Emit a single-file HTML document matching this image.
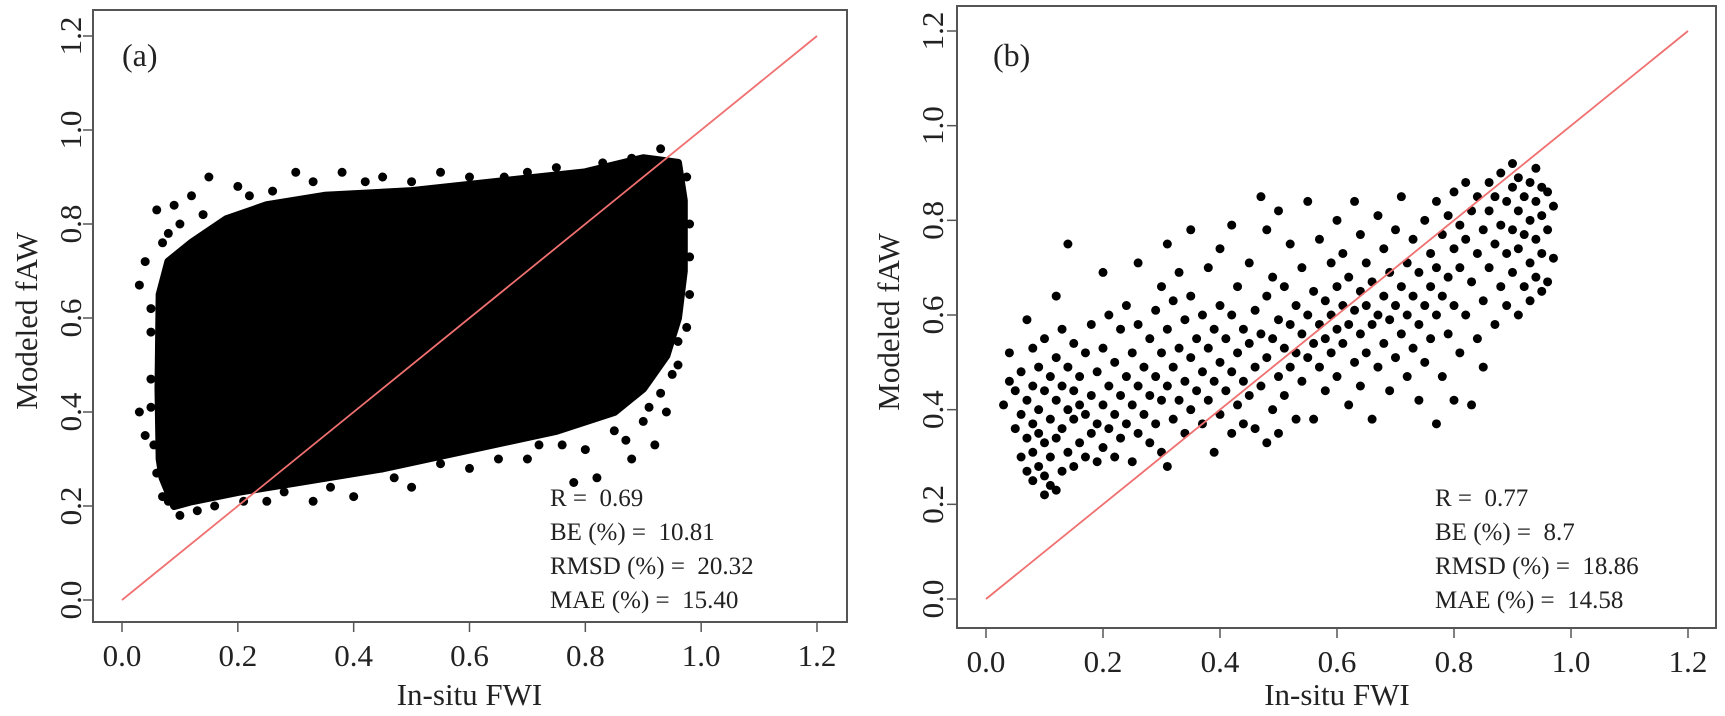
<!DOCTYPE html>
<html><head><meta charset="utf-8"><style>
body{margin:0;background:#fff}
svg{display:block;font-family:"Liberation Serif",serif}
text{white-space:pre}
</style></head><body>
<svg id="c" width="1725" height="716" viewBox="0 0 1725 716"></svg>
<script>
const ticks=[0,0.2,0.4,0.6,0.8,1.0,1.2];
const tickLabels=["0.0","0.2","0.4","0.6","0.8","1.0","1.2"];
const statsA=["R =  0.69","BE (%) =  10.81","RMSD (%) =  20.32","MAE (%) =  15.40"];
const statsB=["R =  0.77","BE (%) =  8.7","RMSD (%) =  18.86","MAE (%) =  14.58"];
const hullA=[[0.065,0.30],[0.063,0.45],[0.065,0.65],[0.08,0.72],[0.12,0.76],[0.18,0.81],[0.25,0.84],[0.35,0.86],[0.5,0.87],[0.65,0.89],[0.8,0.91],[0.9,0.94],[0.96,0.93],[0.97,0.85],[0.97,0.70],[0.96,0.60],[0.94,0.52],[0.9,0.45],[0.85,0.40],[0.75,0.36],[0.6,0.32],[0.45,0.28],[0.3,0.25],[0.2,0.23],[0.12,0.21],[0.09,0.20],[0.07,0.26]];
const ptsA=[[0.04,0.72],[0.03,0.67],[0.03,0.40],[0.04,0.35],[0.05,0.57],[0.06,0.83],[0.09,0.84],[0.15,0.90],[0.2,0.88],[0.3,0.91],[0.38,0.91],[0.45,0.90],[0.55,0.91],[0.7,0.91],[0.88,0.94],[0.93,0.96],[0.98,0.80],[0.98,0.65],[0.95,0.48],[0.92,0.33],[0.88,0.30],[0.82,0.26],[0.78,0.25],[0.7,0.30],[0.6,0.28],[0.5,0.24],[0.4,0.22],[0.33,0.21],[0.25,0.21],[0.16,0.20],[0.1,0.18],[0.07,0.22],[0.76,0.33],[0.85,0.36],[0.94,0.40],[0.12,0.86],[0.08,0.78],[0.05,0.47],[0.06,0.27],
[0.05,0.62],[0.05,0.41],[0.055,0.33],[0.07,0.76],[0.1,0.80],[0.14,0.82],[0.22,0.86],[0.26,0.87],[0.33,0.89],[0.42,0.89],[0.5,0.89],[0.6,0.90],[0.66,0.90],[0.75,0.92],[0.83,0.93],[0.975,0.90],[0.98,0.73],[0.975,0.58],[0.96,0.50],[0.93,0.44],[0.9,0.38],[0.87,0.34],[0.8,0.32],[0.72,0.33],[0.65,0.30],[0.55,0.29],[0.47,0.26],[0.36,0.24],[0.28,0.23],[0.21,0.21],[0.13,0.19],[0.08,0.21],[0.86,0.43],[0.91,0.41],[0.96,0.55]];
const ptsB=[[0.03,0.41],[0.04,0.46],[0.04,0.52],[0.05,0.36],[0.05,0.44],[0.06,0.30],[0.06,0.39],[0.06,0.48],[0.07,0.27],[0.07,0.34],[0.07,0.42],[0.07,0.59],[0.08,0.25],[0.08,0.31],[0.08,0.37],[0.08,0.45],[0.08,0.53],[0.09,0.28],[0.09,0.35],[0.09,0.40],[0.09,0.49],[0.10,0.22],[0.10,0.26],[0.10,0.33],[0.10,0.44],[0.10,0.55],
[0.11,0.24],[0.11,0.30],[0.11,0.38],[0.11,0.47],[0.12,0.23],[0.12,0.34],[0.12,0.42],[0.12,0.51],[0.12,0.64],[0.13,0.27],[0.13,0.36],[0.13,0.45],[0.13,0.57],[0.14,0.31],[0.14,0.40],[0.14,0.49],[0.14,0.75],[0.15,0.28],[0.15,0.38],[0.15,0.44],[0.15,0.54],[0.16,0.33],[0.16,0.41],[0.16,0.47],[0.17,0.30],[0.17,0.39],[0.17,0.52],[0.18,0.35],[0.18,0.43],[0.18,0.58],[0.19,0.29],[0.19,0.37],[0.19,0.48],[0.20,0.32],[0.20,0.41],[0.20,0.53],[0.20,0.69],
[0.21,0.36],[0.21,0.45],[0.21,0.60],[0.22,0.30],[0.22,0.39],[0.22,0.50],[0.23,0.34],[0.23,0.43],[0.23,0.57],[0.24,0.37],[0.24,0.47],[0.24,0.62],[0.25,0.29],[0.25,0.41],[0.25,0.52],[0.26,0.35],[0.26,0.45],[0.26,0.58],[0.26,0.71],[0.27,0.39],[0.27,0.49],[0.28,0.33],[0.28,0.43],[0.28,0.55],[0.29,0.37],[0.29,0.47],[0.29,0.61],[0.30,0.31],[0.30,0.42],[0.30,0.52],[0.30,0.66],
[0.31,0.28],[0.31,0.45],[0.31,0.57],[0.31,0.75],[0.32,0.38],[0.32,0.49],[0.32,0.63],[0.33,0.42],[0.33,0.53],[0.33,0.69],[0.34,0.35],[0.34,0.46],[0.34,0.59],[0.35,0.40],[0.35,0.51],[0.35,0.64],[0.35,0.78],[0.36,0.44],[0.36,0.55],[0.37,0.37],[0.37,0.48],[0.37,0.60],[0.38,0.42],[0.38,0.53],[0.38,0.70],[0.39,0.31],[0.39,0.46],[0.39,0.57],[0.40,0.39],[0.40,0.50],[0.40,0.62],[0.40,0.74],
[0.41,0.44],[0.41,0.55],[0.42,0.35],[0.42,0.48],[0.42,0.60],[0.42,0.79],[0.43,0.41],[0.43,0.52],[0.43,0.66],[0.44,0.37],[0.44,0.46],[0.44,0.57],[0.45,0.43],[0.45,0.54],[0.45,0.71],[0.46,0.36],[0.46,0.49],[0.46,0.61],[0.47,0.45],[0.47,0.56],[0.47,0.85],[0.48,0.33],[0.48,0.51],[0.48,0.64],[0.48,0.78],[0.49,0.40],[0.49,0.55],[0.49,0.68],[0.50,0.35],[0.50,0.47],[0.50,0.59],[0.50,0.82],
[0.51,0.43],[0.51,0.53],[0.51,0.66],[0.52,0.49],[0.52,0.58],[0.52,0.75],[0.53,0.38],[0.53,0.52],[0.53,0.62],[0.54,0.46],[0.54,0.56],[0.54,0.70],[0.55,0.51],[0.55,0.60],[0.55,0.84],[0.56,0.38],[0.56,0.54],[0.56,0.65],[0.57,0.49],[0.57,0.58],[0.57,0.76],[0.58,0.44],[0.58,0.55],[0.58,0.63],[0.59,0.52],[0.59,0.60],[0.59,0.71],[0.60,0.47],[0.60,0.57],[0.60,0.66],[0.60,0.80],
[0.61,0.54],[0.61,0.62],[0.61,0.73],[0.62,0.41],[0.62,0.58],[0.62,0.68],[0.63,0.50],[0.63,0.61],[0.63,0.84],[0.64,0.45],[0.64,0.56],[0.64,0.65],[0.64,0.77],[0.65,0.52],[0.65,0.62],[0.65,0.71],[0.66,0.38],[0.66,0.58],[0.66,0.67],[0.67,0.49],[0.67,0.60],[0.67,0.81],[0.68,0.54],[0.68,0.64],[0.68,0.74],[0.69,0.44],[0.69,0.59],[0.69,0.69],[0.70,0.51],[0.70,0.62],[0.70,0.78],
[0.71,0.56],[0.71,0.66],[0.71,0.85],[0.72,0.47],[0.72,0.60],[0.72,0.71],[0.73,0.53],[0.73,0.64],[0.73,0.76],[0.74,0.42],[0.74,0.58],[0.74,0.69],[0.75,0.50],[0.75,0.62],[0.75,0.80],[0.76,0.55],[0.76,0.66],[0.76,0.73],[0.77,0.37],[0.77,0.60],[0.77,0.70],[0.77,0.84],[0.78,0.47],[0.78,0.64],[0.78,0.77],[0.79,0.56],[0.79,0.68],[0.79,0.81],[0.80,0.42],[0.80,0.62],[0.80,0.74],[0.80,0.86],
[0.81,0.52],[0.81,0.70],[0.81,0.79],[0.82,0.60],[0.82,0.76],[0.82,0.88],[0.83,0.41],[0.83,0.67],[0.83,0.82],[0.84,0.55],[0.84,0.73],[0.84,0.85],[0.85,0.63],[0.85,0.78],[0.85,0.49],[0.86,0.70],[0.86,0.82],[0.86,0.88],[0.87,0.58],[0.87,0.75],[0.87,0.85],[0.88,0.66],[0.88,0.79],[0.88,0.90],[0.89,0.62],[0.89,0.73],[0.89,0.84],[0.90,0.69],[0.90,0.78],[0.90,0.87],[0.90,0.92],
[0.91,0.60],[0.91,0.74],[0.91,0.82],[0.91,0.89],[0.92,0.66],[0.92,0.77],[0.92,0.85],[0.93,0.63],[0.93,0.71],[0.93,0.80],[0.93,0.88],[0.94,0.68],[0.94,0.76],[0.94,0.84],[0.94,0.91],[0.95,0.65],[0.95,0.73],[0.95,0.81],[0.95,0.87],[0.96,0.67],[0.96,0.78],[0.96,0.86],[0.97,0.72],[0.97,0.83]];

const NS="http://www.w3.org/2000/svg";
const svg=document.getElementById('c');
function mk(tag,attrs,parent,text){const e=document.createElementNS(NS,tag);for(const k in attrs)e.setAttribute(k,attrs[k]);if(text!==undefined)e.textContent=text;(parent||svg).appendChild(e);return e;}

const panels=[
 {id:'a',box:[93,10,847,622],x0:122,x1:817,y0:600,y1:36,ytl:70,ytitle:26,lbl:'(a)',lx:122,stats:statsA,sx:550,hull:hullA,pts:ptsA},
 {id:'b',box:[957,6,1716,628],x0:986,x1:1688,y0:599,y1:31,ytl:932,ytitle:888,lbl:'(b)',lx:993,stats:statsB,sx:1435,hull:null,pts:ptsB}
];
panels.forEach(p=>{
  const g=mk('g',{});
  
  
  const X=v=>p.x0+(p.x1-p.x0)*v/1.2, Y=v=>p.y0+(p.y1-p.y0)*v/1.2;
  const [l,t,r,b]=p.box;
  const box=mk('rect',{x:l,y:t,width:r-l,height:b-t,fill:'none',stroke:'#555','stroke-width':2},g);
  
  
  ticks.forEach((v,i)=>{
    mk('line',{x1:X(v),x2:X(v),y1:b,y2:b+10,stroke:'#555','stroke-width':1.5},g);
    const tx=mk('text',{x:X(v),y:b+44,'font-size':31,'text-anchor':'middle',fill:'#222'},g,tickLabels[i]);
    
    
    mk('line',{x1:l,x2:l-10,y1:Y(v),y2:Y(v),stroke:'#555','stroke-width':1.5},g);
    const ty=mk('text',{x:0,y:0,'font-size':31,'text-anchor':'middle',fill:'#222',transform:`translate(${p.ytl+11},${Y(v)}) rotate(-90)`},g,tickLabels[i]);
    
    
  });
  const xt=mk('text',{x:(X(0)+X(1.2))/2,y:705,'font-size':31,'text-anchor':'middle',fill:'#222'},g,'In-situ FWI');
  
  
  const yt=mk('text',{x:0,y:0,'font-size':31,'text-anchor':'middle',fill:'#222',transform:`translate(${p.ytitle+11},${(t+b)/2+5}) rotate(-90)`},g,'Modeled fAW');
  
  
  if(p.hull){
    const hp=mk('polygon',{points:p.hull.map(q=>X(q[0])+','+Y(q[1])).join(' '),fill:'#000',stroke:'#000','stroke-width':8,'stroke-linejoin':'round'},g);
    
    
  }
  p.pts.forEach(q=>{
    const c=mk('circle',{cx:X(q[0]),cy:Y(q[1]),r:4.5,fill:'#000'},g);
    
    
  });
  const ln=mk('line',{x1:X(0),y1:Y(0),x2:X(1.2),y2:Y(1.2),stroke:'#f07070','stroke-width':1.8},g);
  
  
  const pl=mk('text',{x:p.lx,y:66,'font-size':32,fill:'#222'},g,p.lbl);
  
  
  p.stats.forEach((s,i)=>{
    const st=mk('text',{x:p.sx,y:506+i*34,'font-size':25,fill:'#222'},g,s);
    
    
  });
});
</script>
</body></html>
